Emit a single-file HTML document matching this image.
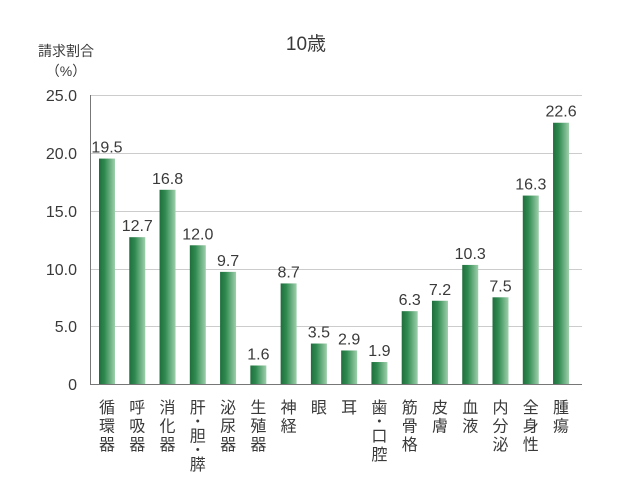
<!DOCTYPE html>
<html><head><meta charset="utf-8"><style>
body{margin:0;background:#fff}
svg text{font-family:"Liberation Sans","Noto Sans CJK JP",sans-serif;fill:#3a3a3a}
</style></head><body>
<svg width="625" height="486" xmlns="http://www.w3.org/2000/svg">
<defs><linearGradient id="g" x1="0" x2="1" y1="0" y2="0">
<stop offset="0" stop-color="#1f6e3c"/><stop offset="0.35" stop-color="#2f8a50"/><stop offset="1" stop-color="#9fd0ac"/></linearGradient></defs>
<text x="306" y="50" font-size="19" text-anchor="middle">10歳</text>
<text x="66" y="56" font-size="14" text-anchor="middle">請求割合</text>
<text x="66" y="76" font-size="14" text-anchor="middle">（%）</text>
<g stroke="#ccc" stroke-width="1">
<line x1="90" x2="582" y1="95.5" y2="95.5"/><line x1="90" x2="582" y1="153.5" y2="153.5"/><line x1="90" x2="582" y1="211.5" y2="211.5"/><line x1="90" x2="582" y1="269.5" y2="269.5"/><line x1="90" x2="582" y1="326.5" y2="326.5"/></g>
<line x1="90.5" x2="90.5" y1="95" y2="384" stroke="#777"/>
<line x1="90" x2="582" y1="384.5" y2="384.5" stroke="#777"/>
<g font-size="16" text-anchor="end">
<text x="77" y="101">25.0</text><text x="77" y="159">20.0</text><text x="77" y="217">15.0</text><text x="77" y="275">10.0</text><text x="77" y="332">5.0</text><text x="77" y="390">0</text></g>
<g id="bars"></g>
</svg>
<script>
var d=[["循環器",19.5],["呼吸器",12.7],["消化器",16.8],["肝・胆・膵",12.0],["泌尿器",9.7],["生殖器",1.6],["神経",8.7],["眼",3.5],["耳",2.9],["歯・口腔",1.9],["筋骨格",6.3],["皮膚",7.2],["血液",10.3],["内分泌",7.5],["全身性",16.3],["腫瘍",22.6]];
var g=document.getElementById('bars'),s='';
d.forEach(function(e,i){var cx=107+i*30.27,h=e[1]*11.56,y=384-h;
s+='<rect x="'+(cx-8)+'" y="'+y+'" width="16" height="'+h+'" fill="url(#g)"/>';
s+='<text x="'+cx+'" y="'+(y-6)+'" font-size="16" text-anchor="middle">'+e[1].toFixed(1)+'</text>';
var ch=e[0].split(''),yy=413;
ch.forEach(function(c){if(c=='・'){s+='<text x="'+cx+'" y="'+(yy-5)+'" font-size="14" text-anchor="middle">・</text>';yy+=10;}else{s+='<text x="'+cx+'" y="'+yy+'" font-size="16" text-anchor="middle">'+c+'</text>';yy+=18.5;}});
});
g.innerHTML=s;
</script>
</body></html>
